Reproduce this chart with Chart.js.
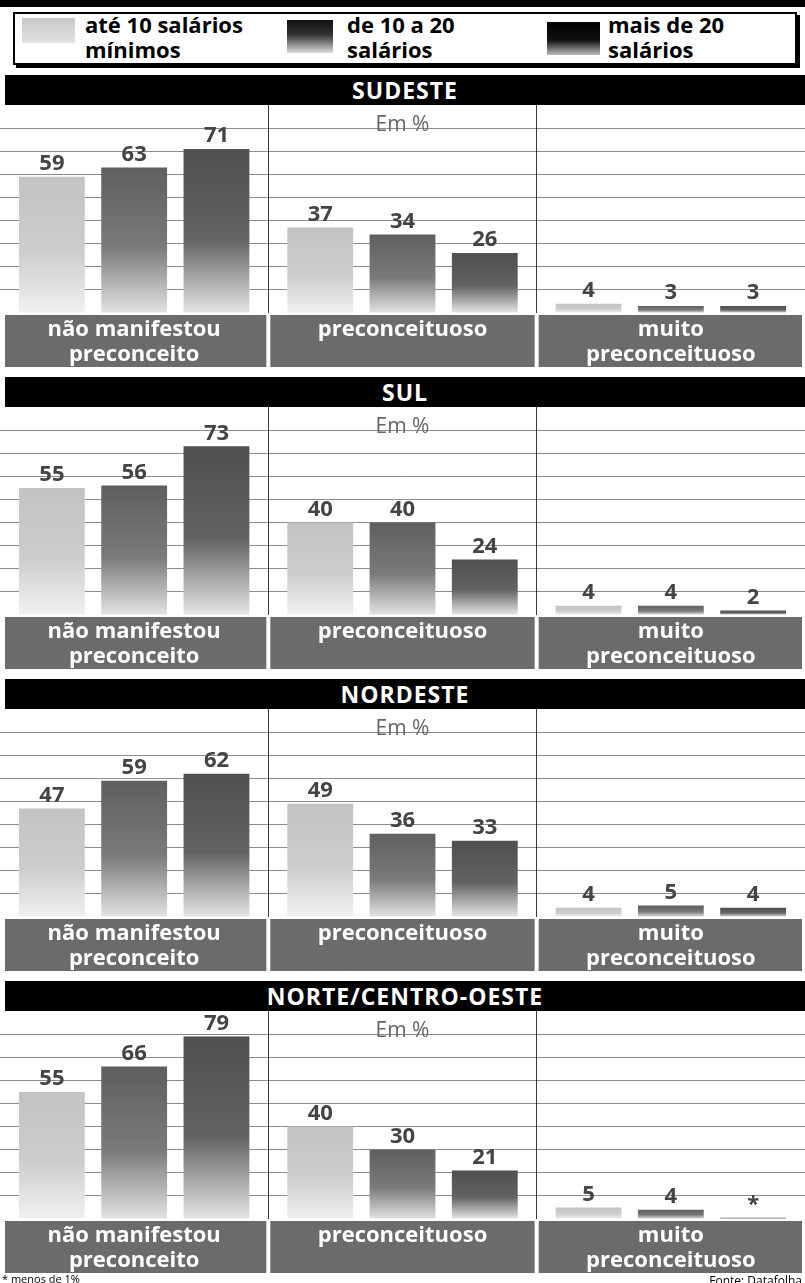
<!DOCTYPE html>
<html>
<head>
<meta charset="utf-8">
<script src="https://cdn.jsdelivr.net/npm/chart.js@4.4.1/dist/chart.umd.min.js"></script>
<style>
  body { margin: 0; background: #fff; width: 805px; height: 1283px; position: relative; overflow: hidden; font-family: "Open Sans", sans-serif; }
  .topbar { position: absolute; left: 0; top: 0; width: 805px; height: 7px; background: #000; }
  .legend { position: absolute; left: 13px; top: 12px; width: 780px; height: 49px; border: 2px solid #000; box-shadow: 3px 3px 0 #000; background: #fff; }
  .sw { position: absolute; }
  .ltxt { position: absolute; font-weight: bold; font-size: 22px; line-height: 25px; color: #000; }
  .head { position: absolute; left: 5px; width: 800px; height: 30px; background: #000; color: #fff; font-weight: bold; font-size: 23px; letter-spacing: 1px; line-height: 30px; text-align: center; }
  canvas { position: absolute; left: 0; }
  .foot { position: absolute; font-size: 11px; color: #000; }
</style>
</head>
<body>
<div class="topbar"></div>
<div class="legend"></div>
<div class="sw" style="left:22px;top:18px;width:53px;height:25px;background:linear-gradient(#c9c9c9,#e2e2e2)"></div>
<div class="ltxt" style="left:85px;top:12px">até 10 salários<br>mínimos</div>
<div class="sw" style="left:287px;top:20px;width:46px;height:33px;background:linear-gradient(#111 0%,#333 45%,#ddd 100%)"></div>
<div class="ltxt" style="left:347px;top:12px">de 10 a 20<br>salários</div>
<div class="sw" style="left:547px;top:22px;width:53px;height:33px;background:linear-gradient(#000 0%,#111 55%,#bbb 100%)"></div>
<div class="ltxt" style="left:608px;top:12px">mais de 20<br>salários</div>
<div id="panels"></div>
<div class="foot" style="left:2px;top:1271px">* menos de 1%</div>
<div class="foot" style="right:3px;top:1272px;font-size:12px">Fonte: Datafolha</div>

<script>
const regions = ['SUDESTE', 'SUL', 'NORDESTE', 'NORTE/CENTRO-OESTE'];
const categories = [['não manifestou', 'preconceito'], ['preconceituoso'], ['muito', 'preconceituoso']];
const seriesNames = ['até 10 salários mínimos', 'de 10 a 20 salários', 'mais de 20 salários'];

// one row per region, in the order of categories
const ate10 = [[59, 37, 4], [55, 40, 4], [47, 49, 4], [55, 40, 5]];
const de10a20 = [[63, 34, 3], [56, 40, 4], [59, 36, 5], [66, 30, 4]];
const mais20 = [[71, 26, 3], [73, 24, 2], [62, 33, 4], [79, 21, 0.5]]; // 0.5 = "menos de 1%"

const shades = [
  ['#c3c3c3', '#cdcdcd', '#f1f1f1'],
  ['#5f5f5f', '#7a7a7a', '#e3e3e3'],
  ['#4f4f4f', '#636363', '#e6e6e6']
];

function barFill(c, s) {
  const chart = c.chart;
  if (!chart.chartArea || c.raw == null) return shades[s][0];
  const y = chart.scales.y;
  const top = y.getPixelForValue(c.raw), bot = y.getPixelForValue(0);
  if (bot - top < 1) return shades[s][0];
  const g = chart.ctx.createLinearGradient(0, top, 0, bot);
  g.addColorStop(0, shades[s][0]);
  g.addColorStop(0.55, shades[s][1]);
  g.addColorStop(1, shades[s][2]);
  return g;
}

const panelDecor = {
  id: 'panelDecor',
  beforeDraw(chart) {
    const { ctx, chartArea, scales: { x } } = chart;
    const n = chart.data.labels.length;
    const w = x.width / n;
    ctx.save();
    ctx.fillStyle = '#6b6b6b';
    for (let i = 0; i < n; i++) {
      const l = x.left + i * w + (i === 0 ? 5 : 2);
      const r = x.left + (i + 1) * w - (i === n - 1 ? 3 : 2);
      ctx.fillRect(l, chartArea.bottom + 2, r - l, chart.height - chartArea.bottom - 4);
    }
    ctx.restore();
  },
  afterDatasetsDraw(chart) {
    const { ctx, chartArea, scales: { x } } = chart;
    ctx.save();
    ctx.fillStyle = '#444';
    ctx.font = 'bold 22px "Open Sans"';
    ctx.textAlign = 'center';
    ctx.textBaseline = 'bottom';
    chart.data.datasets.forEach((ds, d) => {
      chart.getDatasetMeta(d).data.forEach((bar, i) => {
        const v = ds.data[i];
        ctx.fillText(v < 1 ? '*' : String(v), bar.x, bar.y - 2);
      });
    });
    ctx.fillStyle = '#666';
    ctx.font = '21px "Open Sans"';
    ctx.textBaseline = 'alphabetic';
    ctx.fillText('Em %', x.getPixelForValue(1), chartArea.top + 26);
    ctx.restore();
  }
};

const host = document.getElementById('panels');
regions.forEach((name, r) => {
  const top = 75 + r * 302;
  const head = document.createElement('div');
  head.className = 'head';
  head.style.top = top + 'px';
  head.textContent = name;
  host.appendChild(head);
  const cv = document.createElement('canvas');
  cv.width = 805; cv.height = 264;
  cv.style.top = (top + 30) + 'px';
  host.appendChild(cv);

  new Chart(cv, {
    type: 'bar',
    data: {
      labels: categories,
      datasets: [ate10[r], de10a20[r], mais20[r]].map((vals, s) => ({
        label: seriesNames[s],
        data: vals,
        backgroundColor: c => barFill(c, s),
        borderWidth: 0,
        categoryPercentage: 0.92,
        barPercentage: 0.8
      }))
    },
    options: {
      responsive: false,
      animation: false,
      layout: { padding: 0 },
      plugins: { legend: { display: false }, tooltip: { enabled: false } },
      scales: {
        x: {
          grid: {
            offset: true,
            drawTicks: false,
            color: c => (c.type === 'tick' && c.index > 0) ? '#3a3a3a' : 'rgba(0,0,0,0)',
            lineWidth: 1
          },
          border: { display: false },
          ticks: {
            color: '#fff',
            font: { family: 'Open Sans', weight: 'bold', size: 22, lineHeight: 1.1 },
            padding: 5,
            maxRotation: 0,
            autoSkip: false
          },
          afterFit: s => { s.height = 56; }
        },
        y: {
          min: 0,
          max: 90,
          ticks: { stepSize: 10, display: false },
          grid: {
            drawTicks: false,
            color: c => (c.tick && c.tick.value > 0 && c.tick.value < 90) ? 'rgba(0,0,0,0.45)' : 'rgba(0,0,0,0)',
            lineWidth: 1
          },
          border: { display: false },
          afterFit: s => { s.width = 0; }
        }
      }
    },
    plugins: [panelDecor]
  });
});
</script>
</body>
</html>
